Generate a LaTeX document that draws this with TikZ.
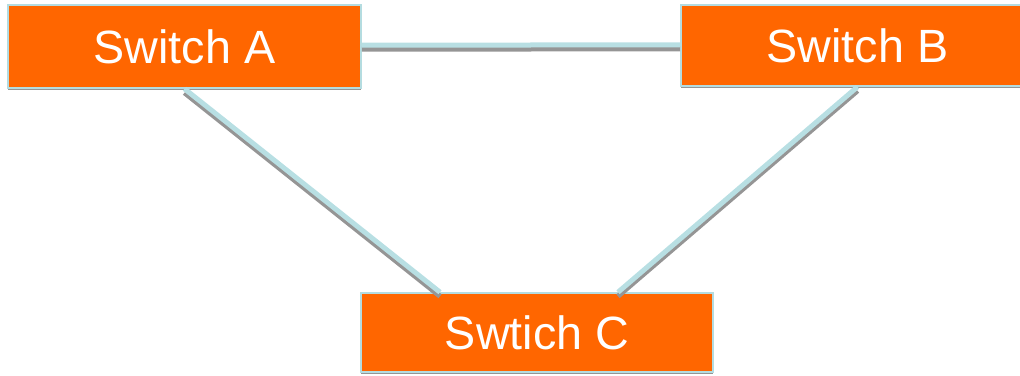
\documentclass[tikz,border=0pt]{standalone}
\usepackage{fontspec}
\setmainfont{Liberation Sans}
\usetikzlibrary{shadows}

\definecolor{swOrange}{HTML}{FF6600}
\definecolor{swEdge}{HTML}{B4DCE0}
\definecolor{linkBlue}{HTML}{B8DFE3}
\definecolor{linkGray}{HTML}{959595}

\begin{document}
\begin{tikzpicture}[x=0.75pt, y=-0.75pt,
	switch/.style={fill=swOrange, draw=swEdge, line width=1.2pt, rectangle, text=white,
		font=\fontsize{35}{40}\selectfont, inner sep=0pt,
		drop shadow={shadow xshift=0pt, shadow yshift=-1.6pt, fill=linkGray, opacity=1}},
	link/.style={linkBlue, line width=3.75pt},
	linkshade/.style={linkGray, line width=3.75pt, transform canvas={yshift=-3pt}}]
	\clip (0, 0) rectangle (1020, 375);
	\useasboundingbox (0, 0) rectangle (1020, 375);
	
	\node[switch, minimum width=264.75pt, minimum height=62.25pt] (swA) at (184.5, 46.5) {Switch A};
	\node[switch, minimum width=264.75pt, minimum height=60.75pt] (swB) at (857.5, 45.5) {Switch B};
	\node[switch, minimum width=264pt, minimum height=59.25pt] (swC) at (537, 332.5) {Swtich C};
	
	\draw[linkshade] ([yshift=1.1pt]swA.east) -- ([yshift=0.4pt]swB.west);
	\draw[link] ([yshift=1.1pt]swA.east) -- ([yshift=0.4pt]swB.west);
	\draw[linkshade] (swA.south) -- ([xshift=-72.75pt]swC.north);
	\draw[link] (swA.south) -- ([xshift=-72.75pt]swC.north);
	\draw[linkshade] (swB.south) -- ([xshift=60.75pt]swC.north);
	\draw[link] (swB.south) -- ([xshift=60.75pt]swC.north);
\end{tikzpicture}
\end{document}
